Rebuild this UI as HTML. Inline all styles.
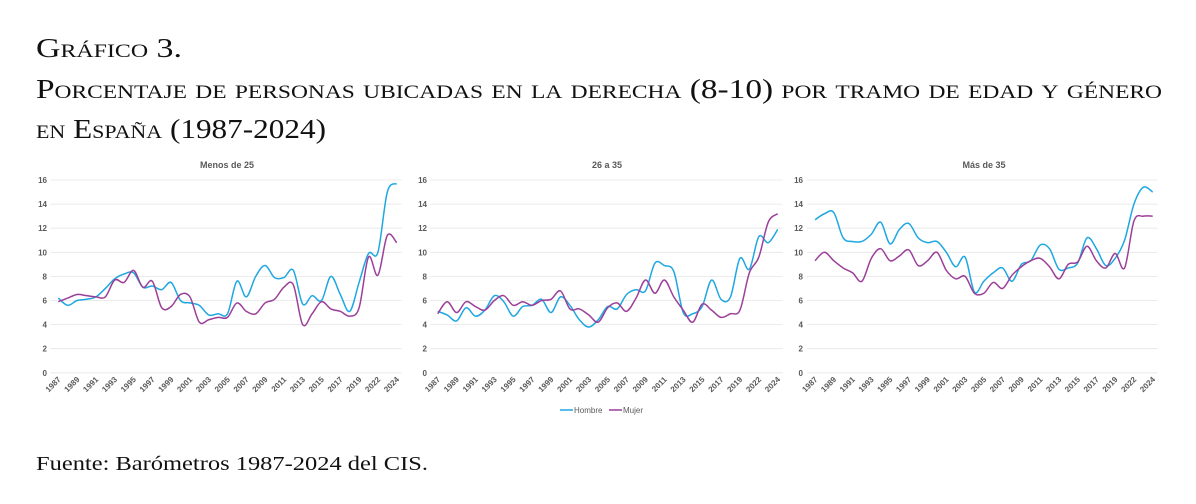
<!DOCTYPE html>
<html><head><meta charset="utf-8"><style>
body{margin:0;background:#fff;}
svg{display:block;}
.t{font-family:"Liberation Serif",serif;font-size:27px;fill:#111;font-variant:small-caps;}
.ax{font-family:"Liberation Sans",sans-serif;font-size:8px;fill:#595959;font-weight:bold;}
.ct{font-family:"Liberation Sans",sans-serif;font-size:9px;fill:#595959;font-weight:bold;}
</style></head><body>
<svg id="s" width="1196" height="504" xmlns="http://www.w3.org/2000/svg">
<text class="t" x="36" y="57" textLength="146" lengthAdjust="spacingAndGlyphs">Gráfico 3.</text>
<text class="t" x="36" y="98" textLength="1126" lengthAdjust="spacingAndGlyphs">Porcentaje de personas ubicadas en la derecha (8-10) por tramo de edad y género</text>
<text class="t" x="36" y="138" textLength="290" lengthAdjust="spacingAndGlyphs">en España (1987-2024)</text>
<text x="36" y="470" font-family="Liberation Serif,serif" font-size="20" fill="#111" textLength="392" lengthAdjust="spacingAndGlyphs">Fuente: Barómetros 1987-2024 del CIS.</text>
<line x1="560" y1="410" x2="573" y2="410" stroke="#1ea7e1" stroke-width="1.5"/>
<text class="ax" x="574" y="413" style="font-weight:normal">Hombre</text>
<line x1="609" y1="410" x2="622" y2="410" stroke="#9b3f99" stroke-width="1.5"/>
<text class="ax" x="623" y="413" style="font-weight:normal">Mujer</text>
</svg>
<script>
var s=document.getElementById('s'),NS='http://www.w3.org/2000/svg';
function el(n,a,t){var e=document.createElementNS(NS,n);for(var k in a)e.setAttribute(k,a[k]);if(t!=null)e.textContent=t;s.appendChild(e);return e;}
var years=[];for(var y=1987;y<=2019;y++)years.push(y);years.push(2020,2022,2023,2024);
var labs=[];for(var i=0;i<37;i++)labs.push(i%2==0?(i<=32?String(years[i]):(i==34?'2022':'2024')):null);
var charts=[
{t:'Menos de 25',x0:58.3,x1:396.7,lx:47,cx:227,
h:[6.2,5.6,6.0,6.1,6.3,7.0,7.8,8.2,8.3,7.1,7.2,6.9,7.5,6.0,5.8,5.6,4.8,4.9,4.9,7.6,6.3,8.0,8.9,7.9,7.9,8.5,5.7,6.4,6.0,8.0,6.5,5.1,7.5,9.9,10.0,15.0,15.7],
m:[5.9,6.2,6.5,6.4,6.3,6.3,7.7,7.5,8.5,7.1,7.6,5.4,5.5,6.5,6.3,4.2,4.4,4.6,4.6,5.8,5.1,4.9,5.8,6.1,7.1,7.3,4.0,4.9,5.9,5.3,5.1,4.7,5.4,9.6,8.1,11.4,10.8]},
{t:'26 a 35',x0:437.7,x1:777.7,lx:427,cx:607,
h:[5.1,4.8,4.3,5.4,4.7,5.2,6.4,5.9,4.7,5.5,5.6,6.1,5.0,6.3,5.6,4.4,3.8,4.4,5.5,5.3,6.5,6.9,6.8,9.1,8.9,8.4,5.0,4.9,5.5,7.7,6.1,6.3,9.5,8.6,11.3,10.8,11.9],
m:[4.9,5.9,5.0,5.9,5.5,5.2,6.0,6.4,5.6,5.9,5.6,6.0,6.1,6.8,5.3,5.3,4.8,4.2,5.4,5.8,5.1,6.2,7.7,6.6,7.7,6.3,5.2,4.2,5.7,5.2,4.6,4.9,5.2,8.3,9.6,12.5,13.2]},
{t:'Más de 35',x0:815,x1:1152.7,lx:803,cx:984,
h:[12.7,13.2,13.3,11.2,10.9,10.9,11.5,12.5,10.7,11.9,12.4,11.2,10.8,10.9,10.0,8.8,9.6,6.7,7.6,8.3,8.7,7.6,9.0,9.3,10.6,10.3,8.6,8.7,9.1,11.2,10.3,8.9,9.5,11.0,14.0,15.4,15.0],
m:[9.3,10.0,9.3,8.7,8.3,7.6,9.5,10.3,9.3,9.7,10.2,8.9,9.3,10.0,8.5,7.8,8.0,6.6,6.6,7.5,7.0,8.1,8.8,9.3,9.5,8.8,7.8,9.0,9.2,10.5,9.3,8.7,9.9,8.7,12.6,13.0,13.0]}];
var Y0=372.8,sc=12.05;
function path(xs,v){var p=v.map(function(d,i){return [xs(i),Y0-d*sc];});var d='M'+p[0][0]+','+p[0][1];
for(var i=0;i<p.length-1;i++){var a=p[i-1]||p[i],b=p[i],c=p[i+1],e=p[i+2]||c;
d+=' C'+(b[0]+(c[0]-a[0])/6)+','+(b[1]+(c[1]-a[1])/6)+' '+(c[0]-(e[0]-b[0])/6)+','+(c[1]-(e[1]-b[1])/6)+' '+c[0]+','+c[1];}return d;}
charts.forEach(function(c){
 var st=(c.x1-c.x0)/36,xs=function(i){return c.x0+i*st;};
 for(var v=0;v<=16;v+=2){var yy=Y0-v*sc;el('line',{x1:c.x0-8,x2:c.x1+5,y1:yy,y2:yy,stroke:'#e6e6e6','stroke-width':0.8});
  el('text',{class:'ax',x:c.lx,y:yy+3,'text-anchor':'end'},String(v));}
 el('text',{class:'ct',x:c.cx,y:168,'text-anchor':'middle'},c.t);
 labs.forEach(function(l,i){if(l){var x=xs(i)+3,y=380;el('text',{class:'ax',x:x,y:y,'text-anchor':'end',transform:'rotate(-45 '+x+' '+y+')'},l);}});
 el('path',{d:path(xs,c.h),fill:'none',stroke:'#1ea7e1','stroke-width':1.5});
 el('path',{d:path(xs,c.m),fill:'none',stroke:'#9b3f99','stroke-width':1.5});
});
</script>
</body></html>
